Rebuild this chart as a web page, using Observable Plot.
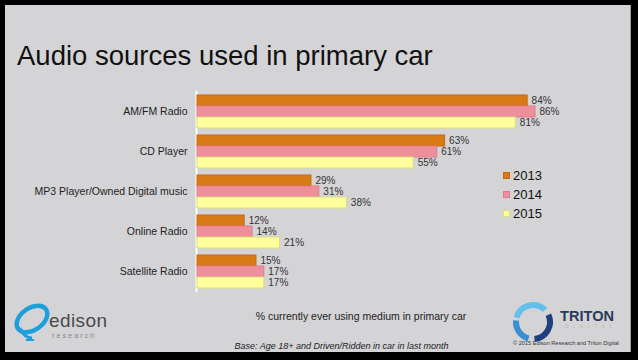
<!DOCTYPE html>
<html>
<head>
<meta charset="utf-8">
<script src="https://cdn.jsdelivr.net/npm/d3@7"></script>
<script src="https://cdn.jsdelivr.net/npm/@observablehq/plot@0.6"></script>
<style>
  html, body { margin: 0; padding: 0; background: #000; }
  #wrap { position: relative; width: 638px; height: 360px; overflow: hidden; background: #000; font-family: "Liberation Sans", Arial, Helvetica, sans-serif; }
  #panel { position: absolute; left: 5px; top: 5px; width: 626px; height: 347px; background: #d4d4d6; border-right: 1px solid #9a9a9c; box-sizing: border-box; }
  #title { position: absolute; left: 17px; top: 42px; font-size: 27.5px; color: #111; white-space: nowrap; line-height: 1; }
  #chart { position: absolute; left: 0; top: 0; }
  #legend { position: absolute; left: 503px; top: 166px; }
  .lg { display: flex; align-items: center; height: 19px; font-size: 13px; color: #111; }
  .sw { width: 7px; height: 7px; margin-right: 3px; box-sizing: border-box; border: 1px solid; }
  #xlabel { position: absolute; left: 0; width: 722px; text-align: center; top: 310px; font-size: 10.5px; color: #222; }
  #base { position: absolute; left: 0; width: 683px; text-align: center; top: 341px; font-size: 9px; font-style: italic; color: #222; }
  #copy { position: absolute; left: 513px; top: 340px; font-size: 5.6px; color: #333; white-space: nowrap; }
  #edison { position: absolute; left: 10px; top: 298px; }
  #triton { position: absolute; left: 510px; top: 298px; }
</style>
</head>
<body>
<div id="wrap">
  <div id="panel"></div>
  <div id="title">Audio sources used in primary car</div>
  <div id="chart"></div>
  <div id="legend"></div>
  <div id="xlabel">% currently ever using medium in primary car</div>
  <div id="base">Base: Age 18+ and Driven/Ridden in car in last month</div>
  <div id="copy">© 2015 Edison Research and Triton Digital</div>
  <svg id="edison" width="110" height="46" viewBox="0 0 110 46">
    <ellipse cx="22" cy="21" rx="17" ry="11" fill="none" stroke="#1d9fdc" stroke-width="4.5" transform="rotate(-35 22 21)"/>
    <path d="M10 30 Q14 40 22 40" fill="none" stroke="#1d9fdc" stroke-width="3"/>
    <path d="M16 42 L24 42" stroke="#1d9fdc" stroke-width="2"/>
    <text x="39" y="29" font-size="19" letter-spacing="0.4" fill="#4a4a4a" font-family="Liberation Sans, Arial, sans-serif">edison</text>
    <text x="42" y="39.5" font-size="7.5" fill="#8a8a8a" letter-spacing="1.9" font-family="Liberation Sans, Arial, sans-serif">research</text>
  </svg>
  <svg id="triton" width="122" height="46" viewBox="0 0 122 46">
    <path d="M6.58 19.6 A17 17 0 0 1 35.02 11.98" fill="none" stroke="#62c0ea" stroke-width="6"/>
    <path d="M38.41 16.82 A17 17 0 0 1 24.48 40.94" fill="none" stroke="#1f3f7e" stroke-width="6"/>
    <path d="M18.6 40.42 A17 17 0 0 1 6.06 22.52" fill="none" stroke="#3a8fd0" stroke-width="6"/>
    <text x="50" y="23" font-size="15.5" font-weight="bold" fill="#2b3a5c" textLength="54" lengthAdjust="spacingAndGlyphs" font-family="Liberation Sans, Arial, sans-serif">TRITON</text>
    <text x="55" y="30" font-size="4.5" fill="#b4b8c2" textLength="47" font-family="Liberation Sans, Arial, sans-serif">DIGITAL</text>
  </svg>
</div>
<script>
const categories = ["AM/FM Radio", "CD Player", "MP3 Player/Owned Digital music", "Online Radio", "Satellite Radio"];
const years = ["2013", "2014", "2015"];
const values2013 = [84, 63, 29, 12, 15];
const values2014 = [86, 61, 31, 14, 17];
const values2015 = [81, 55, 38, 21, 17];

const fillColors = ["#d87a16", "#ee8f9b", "#ffff9c"];
const strokeColors = ["#c46a0e", "#e07c8a", "#dcdc80"];

const series = [values2013, values2014, values2015];
const data = [];
categories.forEach((c, i) => {
  years.forEach((y, j) => data.push({cat: c, year: y, value: series[j][i]}));
});

const chart = Plot.plot({
  width: 638,
  height: 300,
  marginTop: 91,
  marginBottom: 7.5,
  marginLeft: 197,
  marginRight: 48,
  style: {background: "transparent", fontFamily: "Liberation Sans, Arial, sans-serif", fontSize: "10.5px", color: "#222"},
  x: {domain: [0, 100], axis: null},
  y: {domain: years, padding: 0, axis: null},
  fy: {domain: categories, paddingInner: 0.187, paddingOuter: 0.093, axis: "left", label: null, tickSize: 0, tickPadding: 10},
  color: {domain: years, range: fillColors},
  marks: [
    Plot.ruleX([0], {stroke: "#ffffff", strokeWidth: 2, dx: -1, insetTop: -4, insetBottom: -4}),
    Plot.barX(data, {
      x: "value", y: "year", fy: "cat",
      fill: "year",
      stroke: d => strokeColors[years.indexOf(d.year)],
      strokeWidth: 1
    }),
    Plot.text(data, {
      x: "value", y: "year", fy: "cat",
      text: d => d.value + "%",
      textAnchor: "start", dx: 4, fontSize: 10, fill: "#333"
    })
  ]
});
document.getElementById("chart").appendChild(chart);

const legend = document.getElementById("legend");
years.forEach((y, j) => {
  const row = document.createElement("div");
  row.className = "lg";
  const sw = document.createElement("span");
  sw.className = "sw";
  sw.style.background = fillColors[j];
  sw.style.borderColor = strokeColors[j];
  row.appendChild(sw);
  row.appendChild(document.createTextNode(y));
  legend.appendChild(row);
});
</script>
</body>
</html>
